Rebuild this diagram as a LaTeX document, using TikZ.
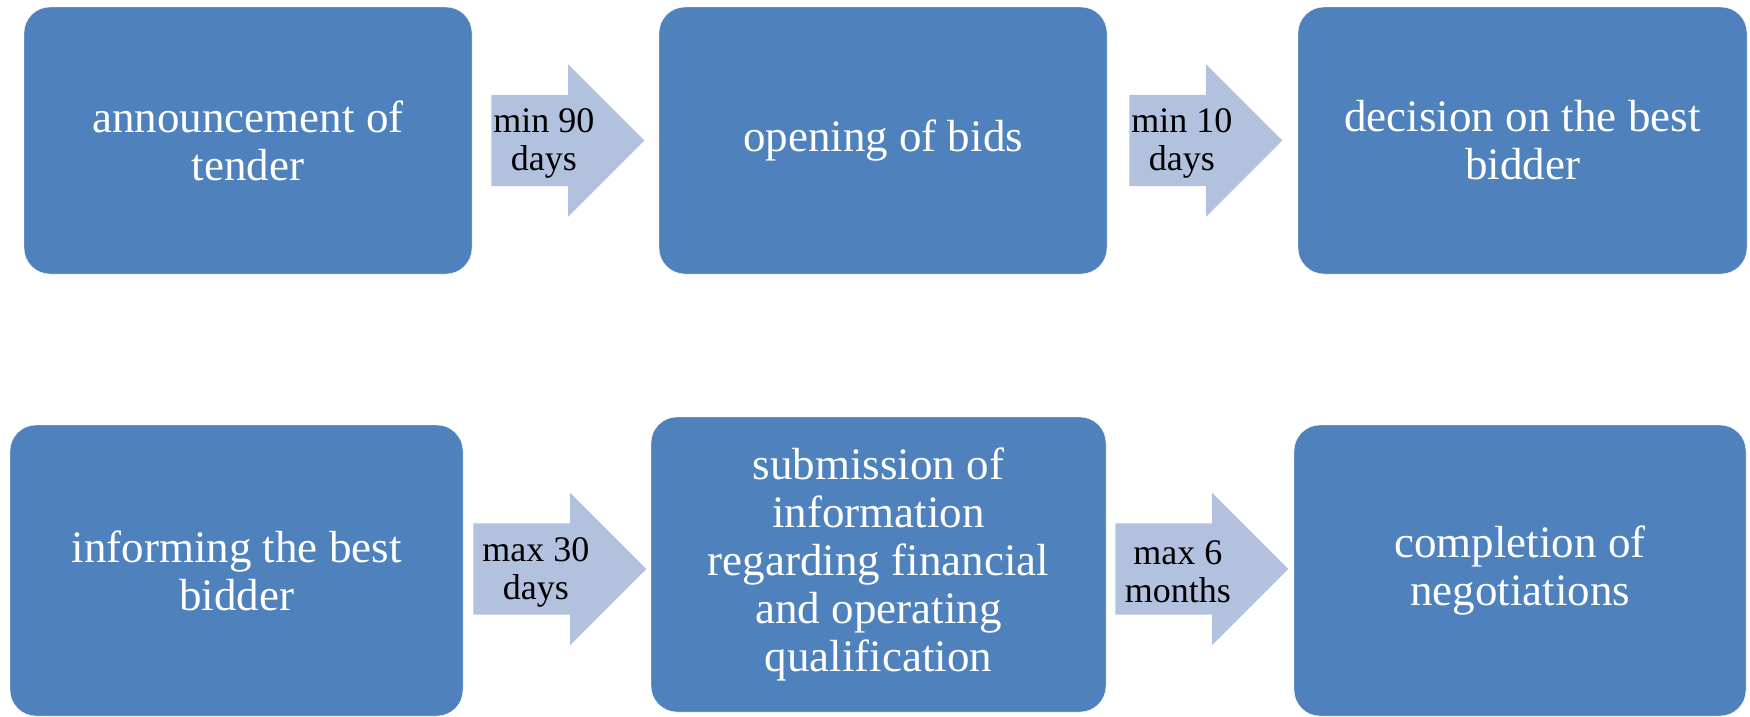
\documentclass[tikz,border=0pt]{standalone}
\usepackage{fontspec}
\setmainfont{Liberation Serif}
\usetikzlibrary{positioning,shapes.arrows,calc}
\definecolor{stageblue}{HTML}{4F81BD}
\definecolor{gapblue}{HTML}{B2C1DE}

\begin{document}
\begin{tikzpicture}[x=1pt,y=1pt,on grid,
        stage/.style={rectangle,rounded corners=26pt,fill=stageblue,draw=white,thin,
            text=white,align=center,font=\fontsize{45}{48}\selectfont,inner sep=0pt,
            minimum width=448pt,minimum height=267pt},
        gap/.style={single arrow,fill=gapblue,inner xsep=0pt,inner ysep=45.5pt,anchor=tail,
            minimum height=153pt,
            single arrow head extend=30.5pt,single arrow tip angle=90},
        gaptext/.style={align=center,font=\fontsize{36}{38}\selectfont,inner sep=0pt}]
        \useasboundingbox (0,0) rectangle (1750,-716);

        % first row
        \node[stage] (s1) at (248,-140.5) {announcement of\\tender};
        \node[stage] (s2) [right=635pt of s1] {opening of bids};
        \node[stage,minimum width=449pt] (s3) [right=639.5pt of s2] {decision on the best\\bidder};

        % second row
        \node[stage,minimum width=453pt,minimum height=291pt] (s4) [below=430pt of s1,xshift=-11.5pt] {informing the best\\bidder};
        \node[stage,minimum width=455pt,minimum height=295pt] (s5) [right=642pt of s4,yshift=6pt]
            {submission of\\information\\regarding financial\\and operating\\qualification};
        \node[stage,minimum width=452pt,minimum height=291pt] (s6) [right=641.5pt of s5,yshift=-6pt] {completion of\\negotiations};

        % arrows between the stages
        \node[gap] (g1) at ([xshift=19pt]s1.east) {};
        \node[gap] (g2) at ([xshift=22pt]s2.east) {};
        \node[gap,minimum height=173pt] (g3) at ([xshift=10pt,yshift=1.5pt]s4.east) {};
        \node[gap,minimum height=173pt] (g4) at ([xshift=9pt,yshift=-4.5pt]s5.east) {};

        \node[gaptext] (t1) at ([xshift=-24pt,yshift=-3pt]$(g1.tail)!.5!(g1.tip)$) {min 90\\days};
        \node[gaptext] (t2) at ([xshift=-24pt,yshift=-3pt]$(g2.tail)!.5!(g2.tip)$) {min 10\\days};
        \node[gaptext] (t3) at ([xshift=-24pt,yshift=-3pt]$(g3.tail)!.5!(g3.tip)$) {max 30\\days};
        \node[gaptext] (t4) at ([xshift=-24pt,yshift=-3pt]$(g4.tail)!.5!(g4.tip)$) {max 6\\months};
\end{tikzpicture}
\end{document}
